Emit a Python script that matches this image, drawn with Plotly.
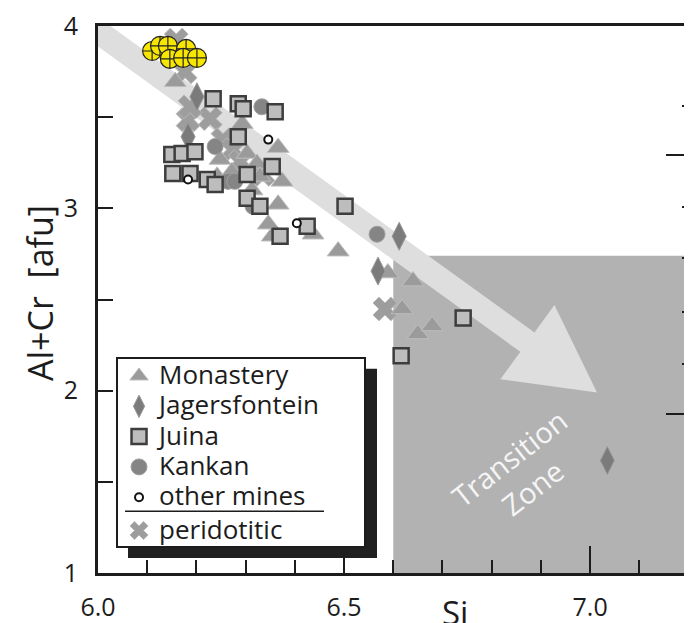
import math
import plotly.graph_objects as go

# ---------------- data (Si, Al+Cr) ----------------
mon_si = [6.157, 6.293, 6.366, 6.248, 6.303, 6.323, 6.329, 6.242, 6.374, 6.366, 6.346, 6.354,
          6.437, 6.488, 6.589, 6.640, 6.618, 6.650, 6.679, 6.272, 6.313]
mon_y = [3.694, 3.464, 3.333, 3.268, 3.301, 3.246, 3.175, 3.175, 3.148, 3.022, 2.913, 2.847,
         2.858, 2.765, 2.645, 2.601, 2.448, 2.311, 2.355, 3.200, 3.100]

jag_si = [6.201, 6.183, 6.612, 6.569, 7.035]
jag_y = [3.612, 3.393, 2.847, 2.656, 1.617]

jui_si = [6.234, 6.285, 6.295, 6.360, 6.285, 6.150, 6.171, 6.197, 6.152, 6.187, 6.222, 6.354,
          6.303, 6.303, 6.329, 6.370, 6.425, 6.502, 6.742, 6.616, 6.238]
jui_y = [3.601, 3.574, 3.546, 3.530, 3.393, 3.295, 3.301, 3.311, 3.191, 3.191, 3.158, 3.230,
         3.186, 3.055, 3.011, 2.847, 2.902, 3.011, 2.399, 2.191, 3.131]

kan_si = [6.333, 6.238, 6.264, 6.278, 6.315, 6.567]
kan_y = [3.557, 3.339, 3.148, 3.148, 3.011, 2.858]

oth_si = [6.346, 6.183, 6.404]
oth_y = [3.377, 3.158, 2.918]

per_si = [6.159, 6.177, 6.183, 6.228, 6.187, 6.254, 6.274, 6.335, 6.583, 6.289]
per_y = [3.923, 3.749, 3.486, 3.492, 3.557, 3.377, 3.322, 3.186, 2.448, 3.257]

yel_si = [6.110, 6.126, 6.142, 6.179, 6.146, 6.173, 6.201]
yel_y = [3.863, 3.891, 3.891, 3.874, 3.820, 3.825, 3.825]

x_ticks = [6.0, 6.5, 7.0]
x_tick_text = ["6.0", "6.5", "7.0"]
y_ticks = [1, 2, 3, 4]
y_tick_text = ["1", "2", "3", "4"]

TZ_SI_MIN = 6.6      # transition zone boundary
TZ_Y_MAX = 2.74
ARROW_TAIL = (5.951, 4.064)
ARROW_TIP = (7.014, 1.990)

# ---------------- layout geometry ----------------
# the page body has an 8px margin, so the figure is offset by 8px
X_RANGE = [6.0, 7.207]
Y_RANGE = [1.0, 4.0]
ML, MR, MT, MB = 90, 0, 16, 50
W, H = 684, 615
PW, PH = W - ML - MR, H - MT - MB
sx = PW / (X_RANGE[1] - X_RANGE[0])
sy = PH / (Y_RANGE[1] - Y_RANGE[0])

FONT = "Open Sans"
INK = "#1c1c1c"
LEG_TXT = 26


def arrow_path(tail, tip, shaft_half, head_half, head_len):
    X0, Y0 = tail[0] * sx, tail[1] * sy
    X1, Y1 = tip[0] * sx, tip[1] * sy
    dx, dy = X1 - X0, Y1 - Y0
    L = math.hypot(dx, dy)
    ux, uy = dx / L, dy / L
    px, py = -uy, ux
    bx, by = X1 - ux * head_len, Y1 - uy * head_len
    pts = [(X0 + px * shaft_half, Y0 + py * shaft_half),
           (bx + px * shaft_half, by + py * shaft_half),
           (bx + px * head_half, by + py * head_half),
           (X1, Y1),
           (bx - px * head_half, by - py * head_half),
           (bx - px * shaft_half, by - py * shaft_half),
           (X0 - px * shaft_half, Y0 - py * shaft_half)]
    d = [(p[0] / sx, p[1] / sy) for p in pts]
    return "M " + " L ".join(f"{a:.5f},{b:.5f}" for a, b in d) + " Z"


def lname(s):
    return f'<span style="font-size:{LEG_TXT}px">{s}</span>'


fig = go.Figure()

common = dict(mode="markers", legendgroup="a")
fig.add_trace(go.Scatter(x=per_si, y=per_y, name=lname("peridotitic"), mode="markers",
                         legendgroup="b", legendrank=6,
                         marker=dict(symbol="x", size=21, color="#9d9d9d",
                                     line=dict(color="#b8b8b8", width=1))))
fig.add_trace(go.Scatter(x=mon_si, y=mon_y, name=lname("Monastery"), legendrank=1, **common,
                         marker=dict(symbol="triangle-up", size=19, color="#9b9b9b",
                                     line=dict(color="#bdbdbd", width=1))))
fig.add_trace(go.Scatter(x=jag_si, y=jag_y, name=lname("Jagersfontein"), legendrank=2, **common,
                         marker=dict(symbol="diamond-tall", size=20, color="#7b7b7b",
                                     line=dict(color="#9a9a9a", width=1))))
fig.add_trace(go.Scatter(x=kan_si, y=kan_y, name=lname("Kankan"), legendrank=4, **common,
                         marker=dict(symbol="circle", size=16, color="#858585",
                                     line=dict(color="#a0a0a0", width=1))))
fig.add_trace(go.Scatter(x=jui_si, y=jui_y, name=lname("Juina"), legendrank=3, **common,
                         marker=dict(symbol="square", size=15, color="#bdbdbd",
                                     line=dict(color="#3d3d3d", width=2.5))))
fig.add_trace(go.Scatter(x=oth_si, y=oth_y, name=lname("other mines"), legendrank=5, **common,
                         marker=dict(symbol="circle", size=8, color="white",
                                     line=dict(color="#111111", width=2))))
fig.add_trace(go.Scatter(x=yel_si, y=yel_y, name="inclusions", mode="markers",
                         showlegend=False,
                         marker=dict(symbol="circle-cross", size=19, color="#f7e600",
                                     line=dict(color="#222222", width=1.2))))

# right-hand unlabeled axis ticks
fig.add_trace(go.Scatter(x=[None], y=[None], yaxis="y2", showlegend=False, hoverinfo="skip"))

shapes = [
    dict(type="rect", xref="x", yref="y", x0=TZ_SI_MIN, x1=X_RANGE[1] + 0.1,
         y0=Y_RANGE[0] - 0.1, y1=TZ_Y_MAX, fillcolor="#b2b2b2", line=dict(width=0),
         layer="below"),
    dict(type="path", xref="x", yref="y",
         path=arrow_path(ARROW_TAIL, ARROW_TIP, 12, 46, 86),
         fillcolor="#dedede", line=dict(width=0), layer="below"),
    # legend shadow, box and separator
    dict(type="rect", xref="paper", yref="paper", x0=0.0505, x1=0.4697, y0=0.0273, y1=0.3734,
         fillcolor="#202020", line=dict(width=0), layer="above"),
    dict(type="rect", xref="paper", yref="paper", x0=0.032, x1=0.4495, y0=0.0474, y1=0.393,
         fillcolor="white", line=dict(color=INK, width=2), layer="above"),
    dict(type="line", xref="paper", yref="paper", x0=0.0455, x1=0.3805, y0=0.113, y1=0.113,
         line=dict(color=INK, width=1.5), layer="above"),
]

annotations = [
    dict(text="Transition<br>Zone", xref="x", yref="y", x=6.86, y=1.55, showarrow=False,
         textangle=-38, font=dict(family=FONT, size=29, color="#f5f5f5")),
    dict(text="Si", xref="x", yref="paper", x=6.726, y=-0.027, yanchor="top",
         xanchor="center", showarrow=False, font=dict(family=FONT, size=33, color=INK)),
    dict(text="Al+Cr  [afu]", xref="paper", yref="paper", x=-0.0976, y=0.512,
         xanchor="center", yanchor="middle",
         textangle=-90, showarrow=False, font=dict(family=FONT, size=34, color=INK)),
]

fig.update_layout(
    width=W, height=H,
    margin=dict(l=ML, r=MR, t=MT, b=MB),
    paper_bgcolor="white", plot_bgcolor="white",
    showlegend=True,
    legend=dict(x=0.0354, y=0.397, xanchor="left", yanchor="top",
                bgcolor="rgba(0,0,0,0)", borderwidth=0, traceorder="grouped",
                tracegroupgap=3, font=dict(family=FONT, size=21, color=INK)),
    shapes=shapes, annotations=annotations,
    xaxis=dict(range=X_RANGE, showgrid=False, zeroline=False, showline=True, mirror=True,
               linecolor=INK, linewidth=3, ticks="inside", ticklen=27, tickwidth=2,
               tickcolor=INK, tickmode="array", tickvals=x_ticks, ticktext=x_tick_text,
               ticklabelstandoff=10, ticklabeloverflow="allow",
               tickfont=dict(family=FONT, size=25, color=INK),
               minor=dict(dtick=0.1, tick0=6.0, ticks="inside", ticklen=13, tickwidth=2,
                          tickcolor=INK, showgrid=False)),
    yaxis=dict(range=Y_RANGE, showgrid=False, zeroline=False, showline=True, mirror=False,
               linecolor=INK, linewidth=3, ticks="inside", ticklen=15, tickwidth=2,
               tickcolor=INK, tickmode="array", tickvals=y_ticks, ticktext=y_tick_text,
               ticklabelstandoff=12, ticklabeloverflow="allow",
               tickfont=dict(family=FONT, size=25, color=INK),
               minor=dict(dtick=0.5, tick0=1.0, ticks="inside", ticklen=15, tickwidth=2,
                          tickcolor=INK, showgrid=False)),
    yaxis2=dict(overlaying="y", side="right", anchor="x", range=[0, PH], showgrid=False,
                zeroline=False, showline=False, showticklabels=False, ticks="inside",
                ticklen=26, tickwidth=2, tickcolor=INK, tickmode="array",
                tickvals=[160, 420],
                minor=dict(ticks="inside", ticklen=10, tickwidth=2, tickcolor=INK,
                           tickmode="array", tickvals=[210, 262, 316, 367, 469],
                           showgrid=False)),
)

fig.write_html("out.html")
